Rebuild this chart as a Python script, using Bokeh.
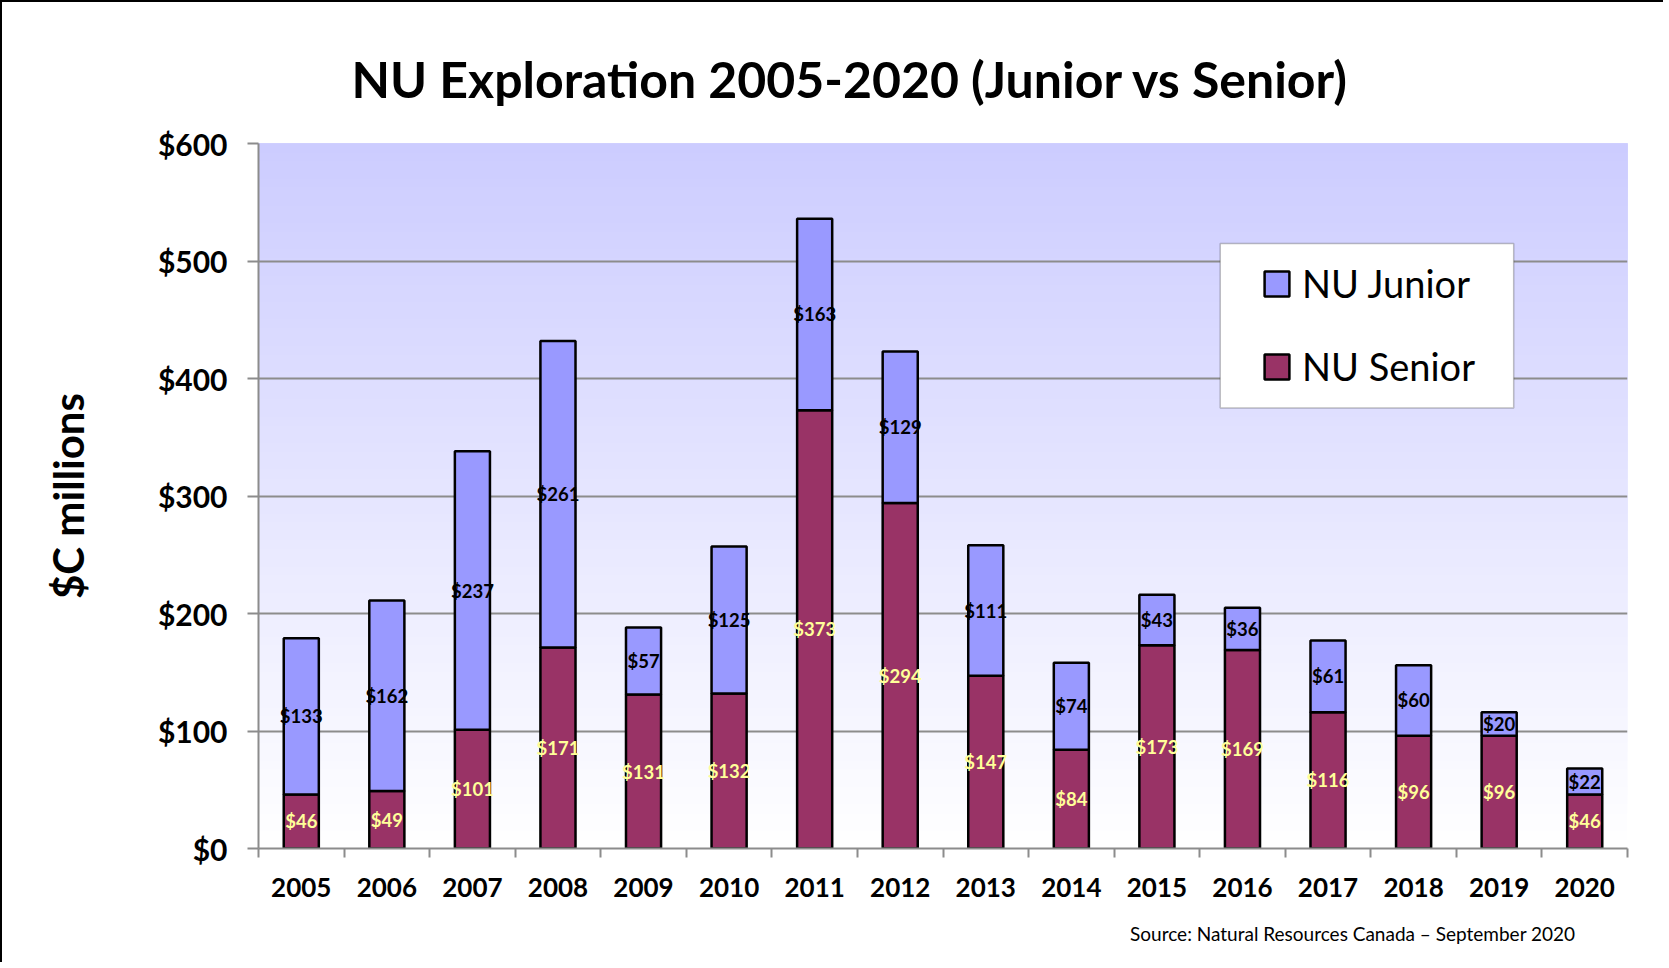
from bokeh.plotting import figure
from bokeh.models import (ColumnDataSource, Range1d, FixedTicker, Title,
                          PrintfTickFormatter, LabelSet, BoxAnnotation, Legend, LegendItem)
from bokeh.core.properties import value
from bokeh.embed import file_html
from bokeh.resources import INLINE

# ---- data ----
years = ["2005", "2006", "2007", "2008", "2009", "2010", "2011", "2012",
         "2013", "2014", "2015", "2016", "2017", "2018", "2019", "2020"]
senior = [46, 49, 101, 171, 131, 132, 373, 294, 147, 84, 173, 169, 116, 96, 96, 46]
junior = [133, 162, 237, 261, 57, 125, 163, 129, 111, 74, 43, 36, 61, 60, 20, 22]
y_ticks = [0, 100, 200, 300, 400, 500, 600]
series_names = ["NU Junior", "NU Senior"]
title_text = "NU Exploration 2005-2020 (Junior vs Senior)"
y_label = "$C millions"
source_text = "Source: Natural Resources Canada \u2013 September 2020"

GRAY = "#8c8c8c"
FONT = "Lato"

xpos = [i + 0.5 for i in range(len(years))]
src = ColumnDataSource(dict(
    x=xpos, year=years, senior=senior, junior=junior,
    senior_mid=[s / 2 for s in senior],
    junior_mid=[s + j / 2 for s, j in zip(senior, junior)],
    senior_lbl=["$%d" % v for v in senior],
    junior_lbl=["$%d" % v for v in junior],
))

p = figure(x_range=Range1d(0, len(years)), y_range=Range1d(y_ticks[0], y_ticks[-1]),
           width=1663, height=962, output_backend="svg", toolbar_location=None,
           min_border_left=256, min_border_right=38, min_border_top=141, min_border_bottom=115)
p.outline_line_color = None
p.background_fill_color = "white"
p.border_fill_color = "white"
p.styles = {"border-left": "2px solid black", "border-top": "2px solid black"}

# title (above) and source note (below)
p.title = Title(text=title_text, align="left", offset=93, standoff=70, text_font=FONT,
                text_font_style="bold", text_font_size="50px", text_color="black")
p.add_layout(Title(text=source_text, align="right", offset=52, standoff=40, text_font=FONT,
                   text_font_style="normal", text_font_size="19px", text_color="black"), "below")

# gradient background (style only)
n = 80
bands = []
for i in range(n):
    t = (i + 0.5) / n
    r = round(255 - (255 - 204) * t)
    col = "#%02x%02xff" % (r, r)
    bands.append(BoxAnnotation(bottom=y_ticks[-1] * i / n, top=y_ticks[-1], fill_color=col, fill_alpha=1,
                               line_color=None, level="underlay"))

# bars
rs = p.vbar_stack(["senior", "junior"], x="x", width=0.41, source=src,
                  fill_color=["#993366", "#9999FF"], line_color="black", line_width=2.5)

# data labels
p.add_layout(LabelSet(x="x", y="senior_mid", text="senior_lbl", source=src,
                      text_align="center", text_baseline="middle", text_font=value(FONT),
                      text_font_style="bold", text_font_size="18.5px", text_color="#FFFF99"))
p.add_layout(LabelSet(x="x", y="junior_mid", text="junior_lbl", source=src,
                      text_align="center", text_baseline="middle", text_font=value(FONT),
                      text_font_style="bold", text_font_size="18.5px", text_color="black"))

# y axis
yax = p.yaxis[0]
yax.ticker = FixedTicker(ticks=y_ticks)
yax.formatter = PrintfTickFormatter(format="$%d")
yax.axis_line_color = GRAY
yax.axis_line_width = 2
yax.major_tick_line_color = GRAY
yax.major_tick_line_width = 2
yax.major_tick_out = 11
yax.major_tick_in = 0
yax.minor_tick_line_color = None
yax.major_label_standoff = 20
yax.major_label_text_font = FONT
yax.major_label_text_font_style = "bold"
yax.major_label_text_font_size = "30px"
yax.major_label_text_color = "black"
yax.axis_label = y_label
yax.axis_label_text_font = FONT
yax.axis_label_text_font_style = "bold"
yax.axis_label_text_font_size = "42px"
yax.axis_label_text_color = "black"
yax.axis_label_standoff = 62

# x axis: year labels at centres, tick marks at category boundaries
xax = p.xaxis[0]
xax.ticker = FixedTicker(ticks=xpos, minor_ticks=list(range(len(years) + 1)))
xax.major_label_overrides = {x: y for x, y in zip(xpos, years)}
xax.axis_line_color = GRAY
xax.axis_line_width = 2
xax.major_tick_line_color = None
xax.major_tick_out = 0
xax.major_tick_in = 0
xax.minor_tick_line_color = GRAY
xax.minor_tick_line_width = 2
xax.minor_tick_out = 9
xax.minor_tick_in = 0
xax.major_label_standoff = 20
xax.major_label_text_font = FONT
xax.major_label_text_font_style = "bold"
xax.major_label_text_font_size = "26px"
xax.major_label_text_color = "black"

# grid
p.xgrid.visible = False
p.ygrid.grid_line_color = GRAY
p.ygrid.grid_line_width = 2
p.center = bands + list(p.center)

# legend frame + legend
p.add_layout(BoxAnnotation(left=11.24, right=14.67, bottom=374.8, top=515, fill_color="white",
                           fill_alpha=1, line_color="#333333", line_width=1.5))
legend = Legend(items=[LegendItem(label=series_names[0], renderers=[rs[1]]),
                       LegendItem(label=series_names[1], renderers=[rs[0]])],
                location=(1003, 459), padding=0, margin=0, spacing=37,
                glyph_width=31, glyph_height=31, label_height=31, label_standoff=10,
                label_text_font=FONT, label_text_font_size="38px", label_text_color="black",
                border_line_color=None, background_fill_alpha=0)
p.add_layout(legend)

open("out.html", "w").write(file_html(p, INLINE))
